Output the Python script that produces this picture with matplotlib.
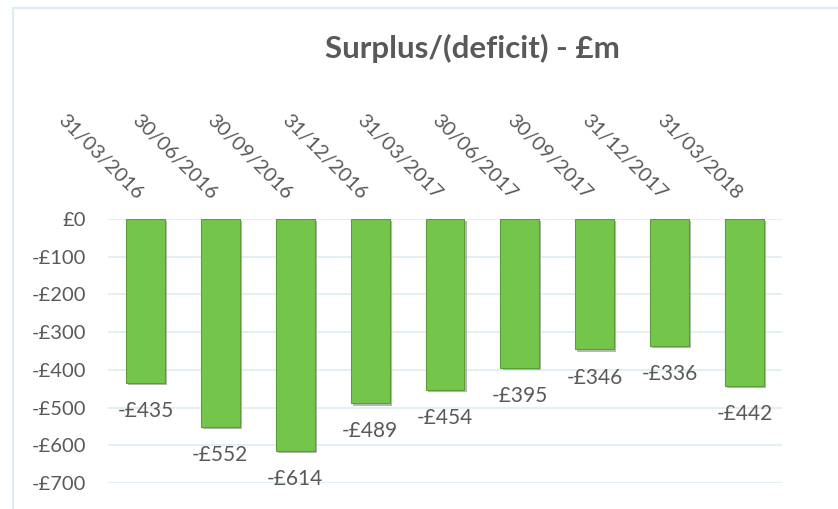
import matplotlib.pyplot as plt
import matplotlib.patheffects as pe
from matplotlib.patches import Rectangle

# quarter end dates and surplus/(deficit) in £m
dates = ["31/03/2016", "30/06/2016", "30/09/2016", "31/12/2016", "31/03/2017",
         "30/06/2017", "30/09/2017", "31/12/2017", "31/03/2018"]
values = [-435, -552, -614, -489, -454, -395, -346, -336, -442]
yticks = [0, -100, -200, -300, -400, -500, -600, -700]

plt.rcParams['font.family'] = ['Lato', 'DejaVu Sans']
txt = '#595959'

fig = plt.figure(figsize=(8.38, 5.09), dpi=100)
# chart area border (light blue, top and left visible)
fig.patches.append(Rectangle((13 / 838, -0.1), 1.0, 1.1 - 8 / 509, transform=fig.transFigure,
                             fill=False, edgecolor='#dcecf5', linewidth=1.5))

ax = fig.add_axes([108 / 838, 1 - 483 / 509, (782 - 108) / 838, (483 - 219) / 509])

x = list(range(len(values)))
bars = ax.bar(x, values, width=0.52, color='#74c64a', edgecolor='#5a9e38', linewidth=0.8,
              zorder=3)
for b in bars:
    b.set_path_effects([pe.SimplePatchShadow(offset=(1.5, -1.5), shadow_rgbFace='#8a8a8a',
                                             alpha=0.6), pe.Normal()])

for xi, v in zip(x, values):
    ax.annotate("-£%d" % abs(v), (xi, v), xytext=(0, -13), textcoords='offset points',
                ha='center', va='top', fontsize=15, color=txt)

ax.set_xlim(-0.5, len(values) - 0.5)
ax.set_ylim(-700, 0)
ax.set_yticks(yticks)
ax.set_yticklabels(["£0" if t == 0 else "-£%d" % abs(t) for t in yticks], fontsize=14.5, color=txt)
ax.yaxis.grid(True, color='#deecf3', linewidth=1.2, zorder=0)
ax.tick_params(axis='y', length=0, pad=16)

ax.xaxis.tick_top()
ax.set_xticks(x)
ax.set_xticklabels(dates, rotation=-45, ha='right', va='bottom', fontsize=14.5, color=txt)
ax.tick_params(axis='x', length=0, pad=12)

for s in ax.spines.values():
    s.set_visible(False)

fig.text(472 / 838, 1 - 48 / 509, "Surplus/(deficit) - £m", ha='center', va='center',
         fontsize=22.5, fontweight='bold', color=txt)

plt.savefig("out.png", dpi=100)
